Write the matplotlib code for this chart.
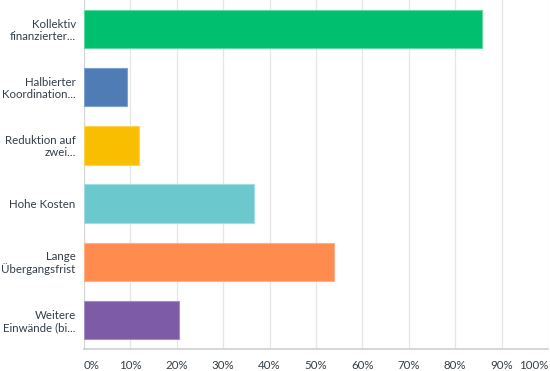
import matplotlib.pyplot as plt

categories = ["Kollektiv\nfinanzierter...", "Halbierter\nKoordination...",
              "Reduktion auf\nzwei...", "Hohe Kosten",
              "Lange\nÜbergangsfrist", "Weitere\nEinwände (bi..."]
values = [85.8, 9.3, 11.9, 36.6, 53.9, 20.5]
colors = ["#00bf6f", "#507cb6", "#f9be00", "#6bc8cd", "#ff8b4f", "#7d5ba6"]
edges = ["#5fd9a0", "#7f9fcc", "#fbd35c", "#a0dde0", "#ffb08a", "#a58cc2"]
ticks = [0, 10, 20, 30, 40, 50, 60, 70, 80, 90, 100]
tick_labels = [f"{t}%" for t in ticks]

plt.rcParams['font.family'] = ['Lato', 'DejaVu Sans']

fig = plt.figure(figsize=(5.5, 3.71), dpi=100)
ax = fig.add_axes([84 / 550, 1 - 349 / 371, 464 / 550, 349 / 371])

y = list(range(len(categories)))
ax.barh(y, values, height=0.66, color=colors, edgecolor=edges, linewidth=0.8, zorder=3)

ax.set_xlim(0, 100)
ax.set_ylim(len(categories) - 0.5, -0.5)
ax.set_yticks(y)
ax.set_yticklabels(categories, fontsize=8.3, color="#333e48", linespacing=1.1)
ax.set_xticks(ticks)
ax.set_xticklabels(tick_labels, fontsize=8.3, color="#333e48")
xl = ax.get_xticklabels()
xl[0].set_ha("left")
xl[-1].set_ha("right")

ax.tick_params(axis="x", length=0, pad=8)
ax.tick_params(axis="y", length=0, pad=6)
ax.grid(axis="x", color="#e6e6e6", linewidth=0.9, zorder=0)

for s in ["top", "right"]:
    ax.spines[s].set_visible(False)
ax.spines["left"].set_color("#d6d6d6")
ax.spines["bottom"].set_color("#cfcfcf")
ax.spines["bottom"].set_linewidth(1.2)

fig.savefig("out.png", dpi=100)
